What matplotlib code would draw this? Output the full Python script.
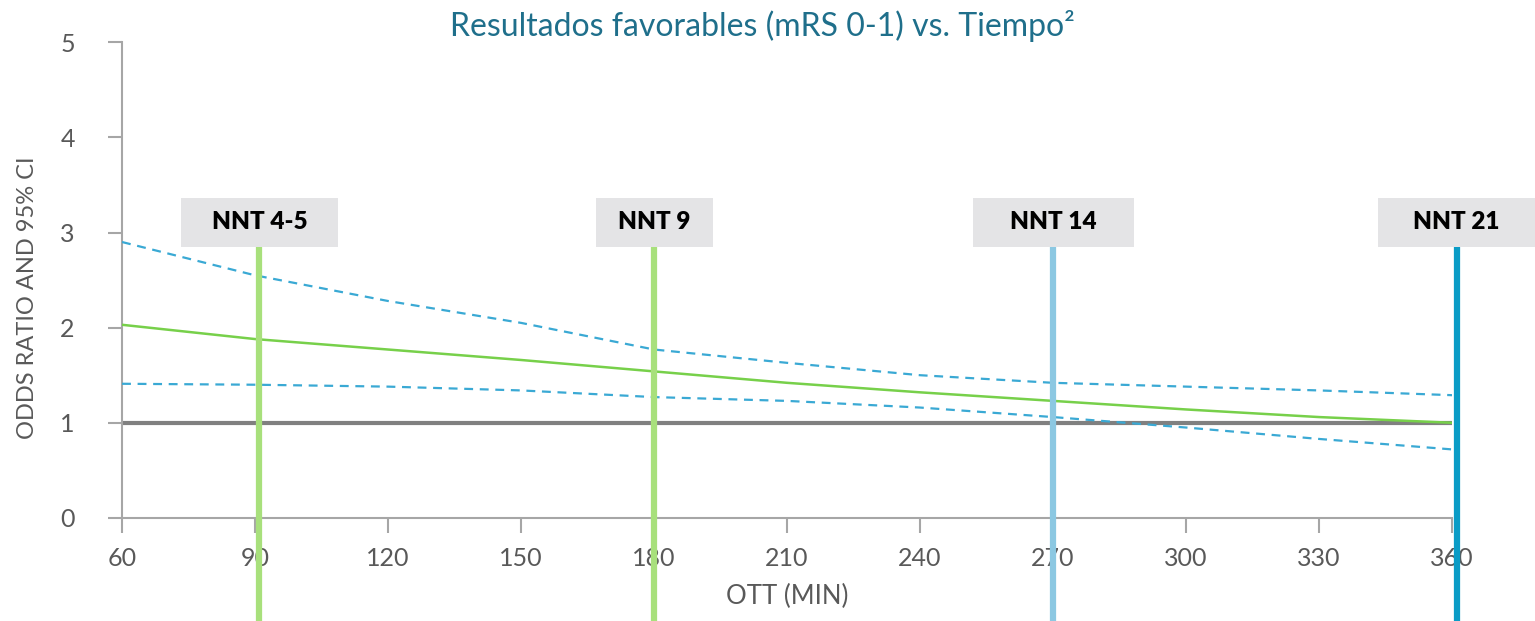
import numpy as np
import matplotlib.pyplot as plt
from matplotlib.patches import Rectangle

plt.rcParams['font.family'] = ['Lato', 'DejaVu Sans']

# ============================= DATA =============================
ott_min = [60, 90, 120, 150, 180, 210, 240, 270, 300, 330, 360]
odds_ratio = [2.03, 1.88, 1.77, 1.66, 1.54, 1.42, 1.32, 1.23, 1.14, 1.06, 1.00]
ci_upper = [2.90, 2.55, 2.28, 2.05, 1.77, 1.63, 1.50, 1.42, 1.38, 1.34, 1.29]
ci_lower = [1.41, 1.40, 1.38, 1.34, 1.27, 1.23, 1.16, 1.06, 0.95, 0.83, 0.72]

nnt_labels = ['NNT 4-5', 'NNT 9', 'NNT 14', 'NNT 21']
nnt_times = [91, 180, 270, 361]

x_ticks = list(range(60, 361, 30))
y_ticks = [0, 1, 2, 3, 4, 5]

# ============================= STYLE =============================
nnt_colors = ['#a8e07c', '#a8e07c', '#8cc8e2', '#0a9cc6']
box_widths = [35.4, 26.4, 36.3, 35.4]   # in minutes
tick_grey = '#595959'
spine_grey = '#a6a6a6'

# ============================= PLOT =============================
fig = plt.figure(figsize=(15.35, 6.21), dpi=100)
ax = fig.add_axes([0.0795, 0.166, 0.8665, 0.766])

ax.plot(ott_min, [1] * len(ott_min), color='#808080', lw=3, zorder=2)
ax.plot(ott_min, ci_upper, color='#3aa9d4', lw=1.6, ls=(0, (4, 3)), zorder=3)
ax.plot(ott_min, ci_lower, color='#3aa9d4', lw=1.6, ls=(0, (4, 3)), zorder=3)
ax.plot(ott_min, odds_ratio, color='#77d04a', lw=1.8, zorder=3)

trans = ax.get_xaxis_transform()
for lab, t, c, w in zip(nnt_labels, nnt_times, nnt_colors, box_widths):
    ax.plot([t, t], [-0.22, 0.57], color=c, lw=4.5, transform=trans,
            clip_on=False, zorder=4, solid_capstyle='butt')
    ax.add_patch(Rectangle((t - w / 2, 0.569), w, 0.103, transform=trans,
                           facecolor='#e4e4e6', edgecolor='none',
                           clip_on=False, zorder=5))
    ax.text(t, 0.622, lab, transform=trans, ha='center', va='center',
            fontsize=17.5, fontweight='heavy', color='black', zorder=6)

ax.set_xlim(60, 360)
ax.set_ylim(0, 5)
ax.set_xticks(x_ticks)
ax.set_yticks(y_ticks)

for side in ['top', 'right']:
    ax.spines[side].set_visible(False)
for side in ['left', 'bottom']:
    ax.spines[side].set_color(spine_grey)
    ax.spines[side].set_linewidth(1.5)

ax.tick_params(axis='both', colors=spine_grey, width=1.5, labelcolor=tick_grey,
               labelsize=18)
ax.tick_params(axis='y', length=10, pad=24)
ax.tick_params(axis='x', length=11, pad=10)

fig.text(0.0176, 0.52, 'ODDS RATIO AND 95% CI', rotation=90, ha='center',
         va='center', color=tick_grey, fontsize=17)
ax.set_xlabel('OTT (MIN)', color=tick_grey, fontsize=18.5, labelpad=10)
fig.text(0.497, 0.958, 'Resultados favorables (mRS 0-1) vs. Tiempo²',
         ha='center', va='center', fontsize=23, color='#1f6f8b')

plt.savefig('out.png', dpi=100, facecolor='white')
